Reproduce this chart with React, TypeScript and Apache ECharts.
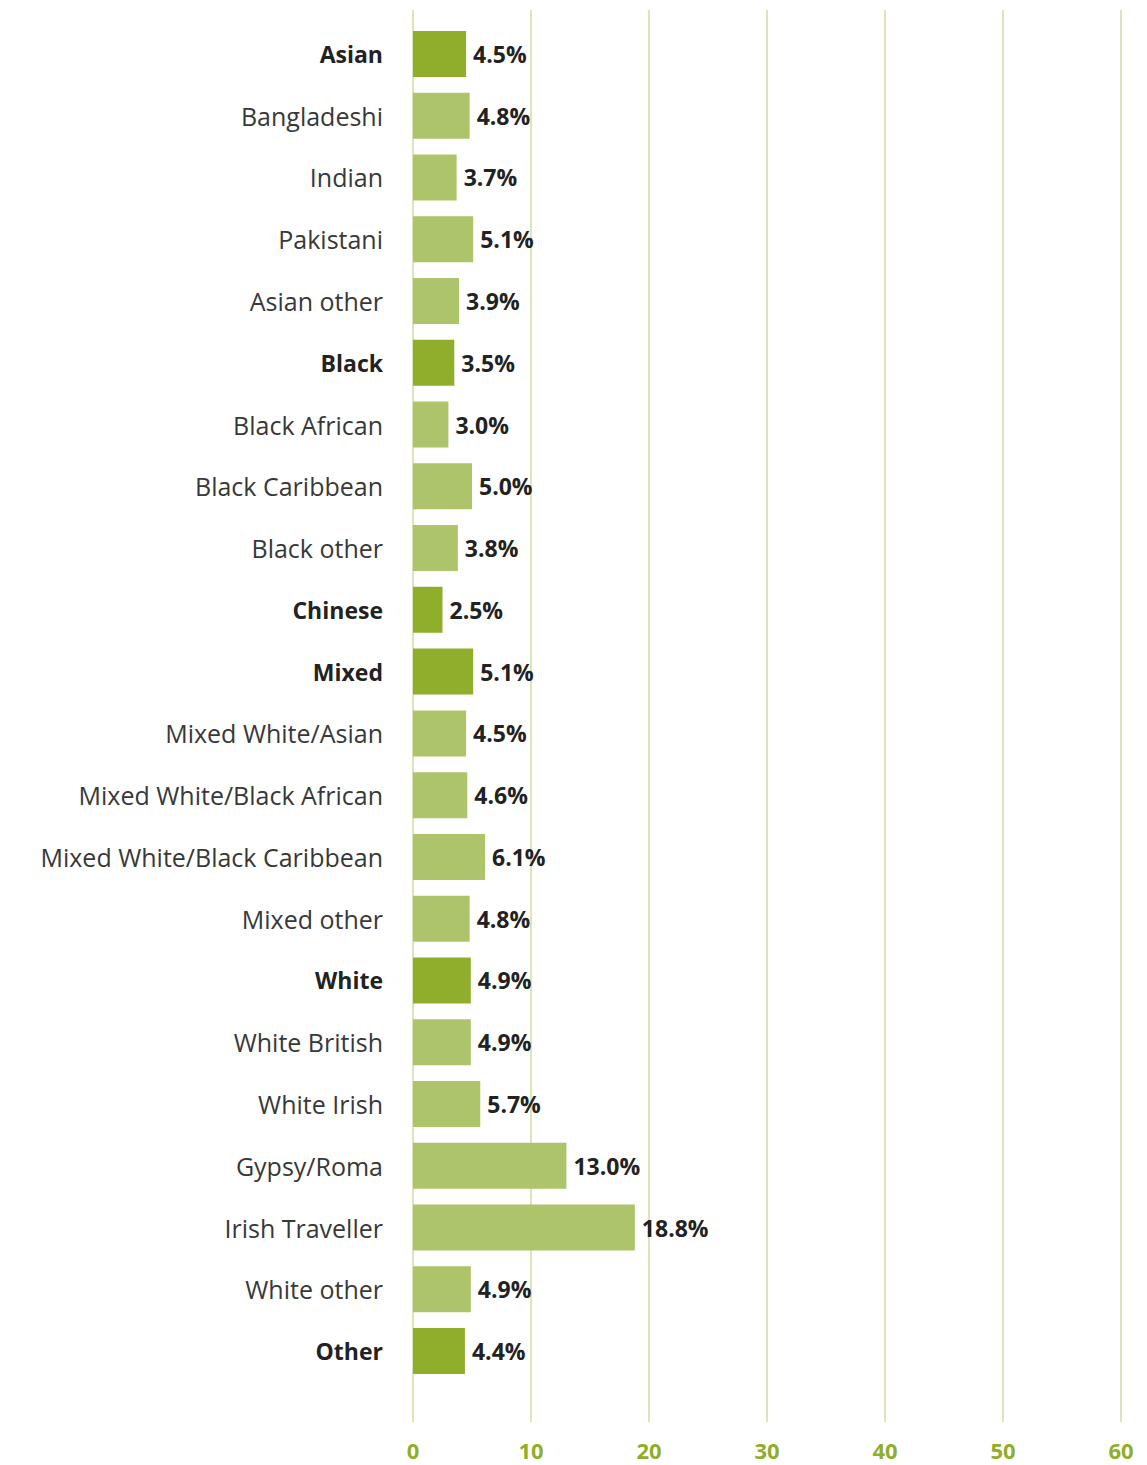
import React, { useEffect, useRef } from "react";
import * as echarts from "echarts";

const categories = [
  "Asian", "Bangladeshi", "Indian", "Pakistani", "Asian other",
  "Black", "Black African", "Black Caribbean", "Black other",
  "Chinese",
  "Mixed", "Mixed White/Asian", "Mixed White/Black African", "Mixed White/Black Caribbean", "Mixed other",
  "White", "White British", "White Irish", "Gypsy/Roma", "Irish Traveller", "White other",
  "Other",
];
const values = [4.5, 4.8, 3.7, 5.1, 3.9, 3.5, 3.0, 5.0, 3.8, 2.5, 5.1, 4.5, 4.6, 6.1, 4.8, 4.9, 4.9, 5.7, 13.0, 18.8, 4.9, 4.4];
const headings = ["Asian", "Black", "Chinese", "Mixed", "White", "Other"];
const xTicks = [0, 10, 20, 30, 40, 50, 60];

const FONT = "'Open Sans', 'Noto Sans', sans-serif";

export default function App() {
  const ref = useRef<HTMLDivElement>(null);
  useEffect(() => {
    if (!ref.current) return;
    const chart = echarts.init(ref.current, null, { renderer: "svg" });
    const dark = "#8fae2b";
    const light = "#adc46a";
    chart.setOption({
      animation: false,
      grid: [
        { left: 413, right: 26, top: 10, bottom: 43 },
        { left: 413, right: 26, top: 23, bottom: 1465 - 1382 },
      ],
      xAxis: [
        {
          gridIndex: 0, type: "value", min: xTicks[0], max: xTicks[xTicks.length - 1], interval: 10,
          axisLine: { show: false }, axisTick: { show: false },
          splitLine: { show: true, lineStyle: { color: "#dbe5b5", width: 2 } },
          axisLabel: { color: dark, fontSize: 22, fontWeight: "bold", fontFamily: FONT, margin: 17 },
        },
        {
          gridIndex: 1, type: "value", min: 0, max: 60, interval: 10, show: false,
          splitLine: { show: false },
        },
      ],
      yAxis: [
        { gridIndex: 0, type: "category", data: [""], show: false },
        {
          gridIndex: 1, type: "category", inverse: true, data: categories,
          axisLine: { show: false }, axisTick: { show: false },
          axisLabel: {
            margin: 30, fontSize: 25, fontFamily: FONT, color: "#383838",
            formatter: (v: string) => (headings.includes(v) ? `{b|${v}}` : v),
            rich: { b: { fontWeight: "bold", fontSize: 23, fontFamily: FONT, color: "#222" } },
          },
        },
      ],
      series: [
        {
          type: "bar", xAxisIndex: 1, yAxisIndex: 1, barWidth: 46,
          data: values.map((v, i) => ({
            value: v,
            itemStyle: { color: headings.includes(categories[i]) ? dark : light },
          })),
          label: {
            show: true, position: "right", distance: 7,
            formatter: (p: any) => `${Number(p.value).toFixed(1)}%`,
            fontSize: 23, fontWeight: "bold", fontFamily: FONT, color: "#222",
          },
        },
      ],
    });
    return () => chart.dispose();
  }, []);
  return <div ref={ref} style={{ position: "fixed", left: 0, top: 0, width: 1147, height: 1465, background: "#fff" }} />;
}
